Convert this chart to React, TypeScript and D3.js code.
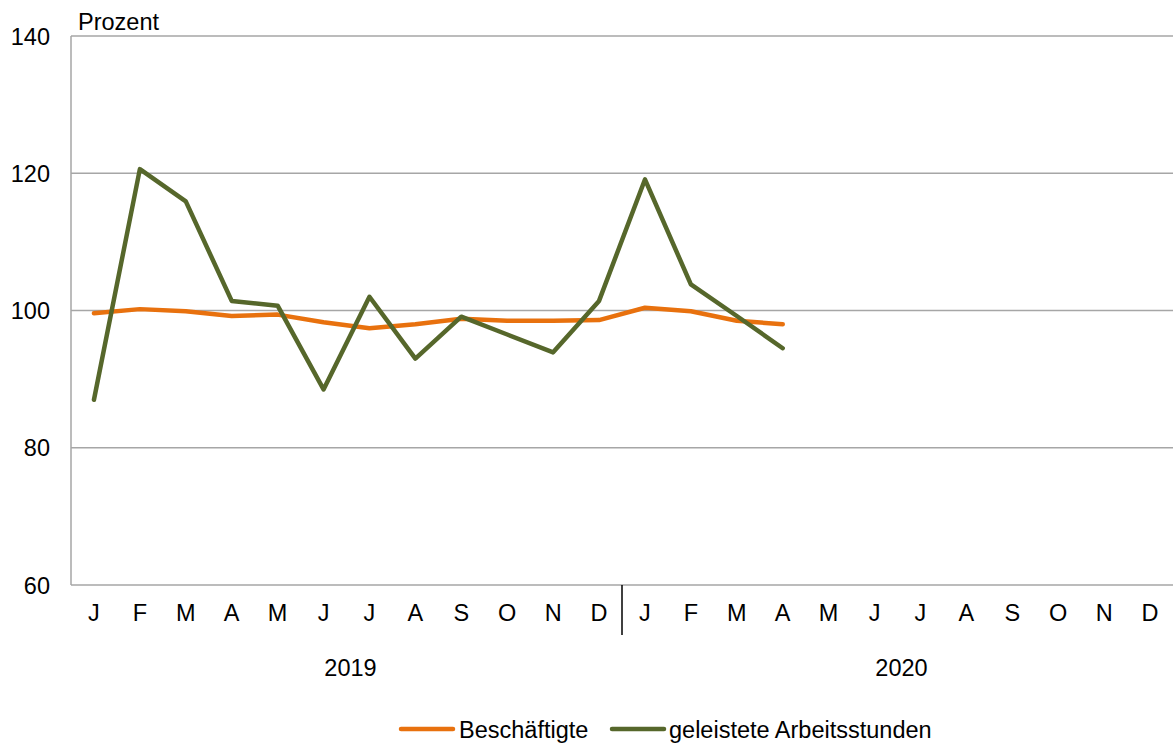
import { useEffect, useRef } from 'react';
import * as d3 from 'd3';

const MONTHS = ["J", "F", "M", "A", "M", "J", "J", "A", "S", "O", "N", "D"];
const YEARS = ["2019", "2020"];
const Y_TICKS = [60, 80, 100, 120, 140];
const BESCHAEFTIGTE = [99.6, 100.2, 99.9, 99.2, 99.4, 98.3, 97.4, 98.0, 98.8, 98.5, 98.5, 98.6, 100.4, 99.9, 98.5, 98.0];
const ARBEITSSTUNDEN = [87.0, 120.6, 115.9, 101.4, 100.7, 88.5, 102.0, 93.0, 99.1, 96.5, 93.9, 101.4, 119.1, 103.8, 99.2, 94.5];
const SERIES = [
  { name: "Beschäftigte", values: BESCHAEFTIGTE, color: "#e8710e" },
  { name: "geleistete Arbeitsstunden", values: ARBEITSSTUNDEN, color: "#56672b" },
];

export default function App() {
  const svgRef = useRef<SVGSVGElement>(null);

  useEffect(() => {
    if (!svgRef.current) return;
    const svg = d3.select(svgRef.current);
    svg.selectAll("*").remove();
    const W = 1173, H = 747;
    const m = { left: 71, right: 0, top: 36, bottom: 162 };
    const font = "'Liberation Sans', Arial, sans-serif";
    const fs = "23.5px";

    const slots = YEARS.flatMap((yr) => MONTHS.map((mo, i) => `${yr}-${i}`));
    const x = d3.scaleBand().domain(slots).range([m.left, W - m.right]);
    const y = d3.scaleLinear().domain([60, 140]).range([H - m.bottom, m.top]);

    // grid
    svg.append("g").selectAll("line").data(Y_TICKS.slice(1)).join("line")
      .attr("x1", m.left).attr("x2", W - m.right)
      .attr("y1", d => y(d)).attr("y2", d => y(d))
      .attr("stroke", "#a6a6a6").attr("stroke-width", 1.5);

    // axes lines
    svg.append("line").attr("x1", m.left).attr("x2", m.left)
      .attr("y1", y(140)).attr("y2", y(60)).attr("stroke", "#a6a6a6").attr("stroke-width", 1.5);
    svg.append("line").attr("x1", m.left).attr("x2", W - m.right)
      .attr("y1", y(60)).attr("y2", y(60)).attr("stroke", "#a6a6a6").attr("stroke-width", 1.5);

    // y labels
    svg.append("g").selectAll("text").data(Y_TICKS).join("text")
      .attr("x", 50).attr("y", d => y(d) + 8.5)
      .attr("text-anchor", "end").style("font-family", font).style("font-size", fs)
      .text(d => d);
    svg.append("text").attr("x", 78).attr("y", 30)
      .style("font-family", font).style("font-size", fs).text("Prozent");

    // month labels
    svg.append("g").selectAll("text").data(slots).join("text")
      .attr("x", d => x(d)! + x.bandwidth() / 2).attr("y", y(60) + 36)
      .attr("text-anchor", "middle").style("font-family", font).style("font-size", fs)
      .text(d => MONTHS[+d.split("-")[1]]);

    // year labels and separator
    YEARS.forEach((yr, yi) => {
      const x0 = x(`${yr}-0`)!;
      const x1 = x(`${yr}-11`)! + x.bandwidth();
      svg.append("text").attr("x", (x0 + x1) / 2 + 4).attr("y", y(60) + 91)
        .attr("text-anchor", "middle").style("font-family", font).style("font-size", fs).text(yr);
      if (yi > 0) {
        svg.append("line").attr("x1", x0).attr("x2", x0)
          .attr("y1", y(60)).attr("y2", y(60) + 50).attr("stroke", "#000").attr("stroke-width", 1.5);
      }
    });

    // lines
    const line = d3.line<number>()
      .x((d, i) => x(slots[i])! + x.bandwidth() / 2)
      .y(d => y(d));
    SERIES.forEach(s => {
      svg.append("path").datum(s.values).attr("d", line)
        .attr("fill", "none").attr("stroke", s.color).attr("stroke-width", 4.5)
        .attr("stroke-linejoin", "round").attr("stroke-linecap", "round");
    });

    // legend
    const lg = [{ x: 401, tx: 459 }, { x: 612, tx: 669 }];
    SERIES.forEach((s, i) => {
      svg.append("line").attr("x1", lg[i].x).attr("x2", lg[i].x + 52)
        .attr("y1", 729).attr("y2", 729).attr("stroke", s.color).attr("stroke-width", 4.5)
        .attr("stroke-linecap", "round");
      svg.append("text").attr("x", lg[i].tx).attr("y", 738)
        .style("font-family", font).style("font-size", fs).text(s.name);
    });
  }, []);

  return (
    <div style={{ position: "absolute", left: 0, top: 0 }}>
      <svg ref={svgRef} width={1173} height={747} style={{ display: "block", background: "#fff" }} />
    </div>
  );
}
